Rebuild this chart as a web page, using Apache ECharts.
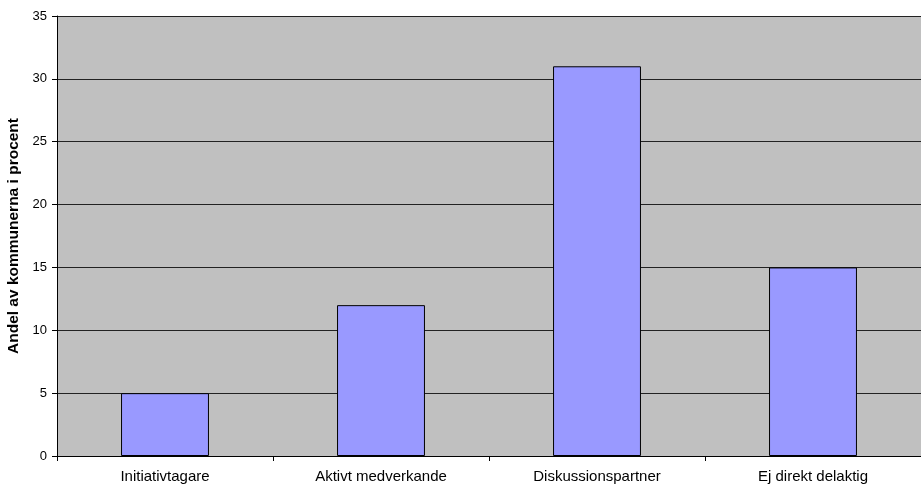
<!DOCTYPE html>
<html>
<head>
<meta charset="utf-8">
<script src="https://cdn.jsdelivr.net/npm/echarts@6/dist/echarts.min.js"></script>
<style>
  html, body { margin: 0; padding: 0; background: #fff; }
  #chart { width: 921px; height: 488px; }
</style>
</head>
<body>
<div id="chart"></div>
<script>
// Roles of the municipalities and their share (percent)
const categories = ['Initiativtagare', 'Aktivt medverkande', 'Diskussionspartner', 'Ej direkt delaktig'];
const shares = [5, 12, 31, 15];
const yTicks = { min: 0, max: 35, step: 5 };
const yTitle = 'Andel av kommunerna i procent';

const chart = echarts.init(document.getElementById('chart'), null, { renderer: 'canvas' });
chart.setOption({
  animation: false,
  textStyle: { fontFamily: 'Liberation Sans, Arial, sans-serif' },
  grid: {
    left: 57, right: 0, top: 16, bottom: 32,
    outerBoundsMode: 'none',
    containLabel: false,
    show: true, backgroundColor: '#C0C0C0', borderWidth: 0
  },
  xAxis: {
    type: 'category',
    data: categories,
    axisLine: { show: true, lineStyle: { color: '#000', width: 1 } },
    axisTick: { show: true, alignWithLabel: false, length: 5, lineStyle: { color: '#000' } },
    axisLabel: { color: '#000', fontSize: 15, margin: 13 }
  },
  yAxis: {
    type: 'value',
    min: yTicks.min, max: yTicks.max, interval: yTicks.step,
    name: yTitle,
    nameLocation: 'middle',
    nameGap: 29,
    nameTextStyle: { color: '#000', fontSize: 15.5, fontWeight: 'bold' },
    axisLine: { show: true, lineStyle: { color: '#000', width: 1 } },
    axisTick: { show: true, length: 5, lineStyle: { color: '#000' } },
    axisLabel: { color: '#000', fontSize: 13, margin: 10 },
    splitLine: { show: true, lineStyle: { color: '#222', width: 1 } }
  },
  series: [{
    type: 'bar',
    data: shares,
    barWidth: '40.7%',
    itemStyle: { color: '#9999FF', borderColor: '#000', borderWidth: 1 }
  }]
});
</script>
</body>
</html>
